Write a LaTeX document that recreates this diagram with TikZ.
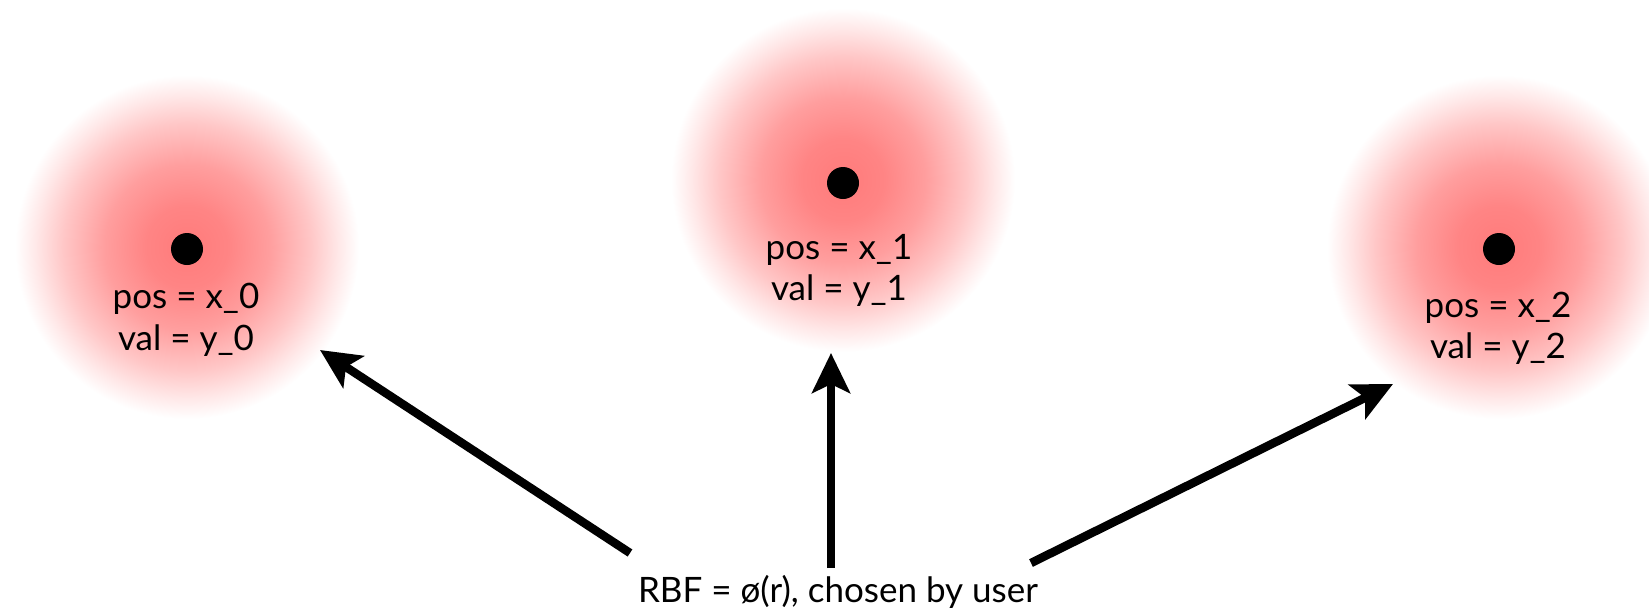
\documentclass[tikz,border=0pt]{standalone}
\usepackage{fontspec}
\setmainfont{Lato}
\usetikzlibrary{arrows.meta}
\pgfdeclareradialshading{blob}{\pgfpoint{0bp}{0bp}}{%
  color(0bp)=(red!52);
  color(6bp)=(red!48);
  color(12bp)=(red!38);
  color(18bp)=(red!22);
  color(22bp)=(red!9);
  color(25bp)=(white);
  color(50bp)=(white)}
\tikzset{
  blobshade/.style={shading=blob},
  dot/.style={circle, fill=black, inner sep=0pt, minimum size=32pt},
  lbl/.style={anchor=base, inner sep=0pt, font=\fontsize{35}{41}\selectfont},
  bottomlbl/.style={anchor=base, inner sep=0pt, font=\fontsize{35}{41}\selectfont},
  arr/.style={line width=8.5pt, -{Stealth[length=40pt,width=38pt,inset=9pt]}}
}
\begin{document}
\begin{tikzpicture}[x=1pt,y=-1pt]
\useasboundingbox (0,0) rectangle (1649,611);
% blobs
\shade[blobshade] (187,247) circle (172);
\shade[blobshade] (843,180) circle (172);
\shade[blobshade] (1499,247) circle (172);
% dots
\node[dot] (d0) at (187,249) {};
\node[dot] (d1) at (843,183) {};
\node[dot] (d2) at (1499,249) {};
% labels
\node[lbl] (p0) at (186,308) {pos = x\_0};
\node[lbl] (v0) at (186,350) {val = y\_0};
\node[lbl] (p1) at (839,259) {pos = x\_1};
\node[lbl] (v1) at (839,300) {val = y\_1};
\node[lbl] (p2) at (1498,317) {pos = x\_2};
\node[lbl] (v2) at (1498,358) {val = y\_2};
\node[bottomlbl] (rbf) at (838,602) {RBF = ø(r), chosen by user};
% arrow endpoints
\coordinate (s0) at (630,553);
\coordinate (t0) at (320,350);
\coordinate (s1) at (831,568);
\coordinate (t1) at (831,353);
\coordinate (s2) at (1031,563);
\coordinate (t2) at (1393,384);
\draw[arr] (s0) -- (t0);
\draw[arr] (s1) -- (t1);
\draw[arr] (s2) -- (t2);
\end{tikzpicture}
\end{document}
